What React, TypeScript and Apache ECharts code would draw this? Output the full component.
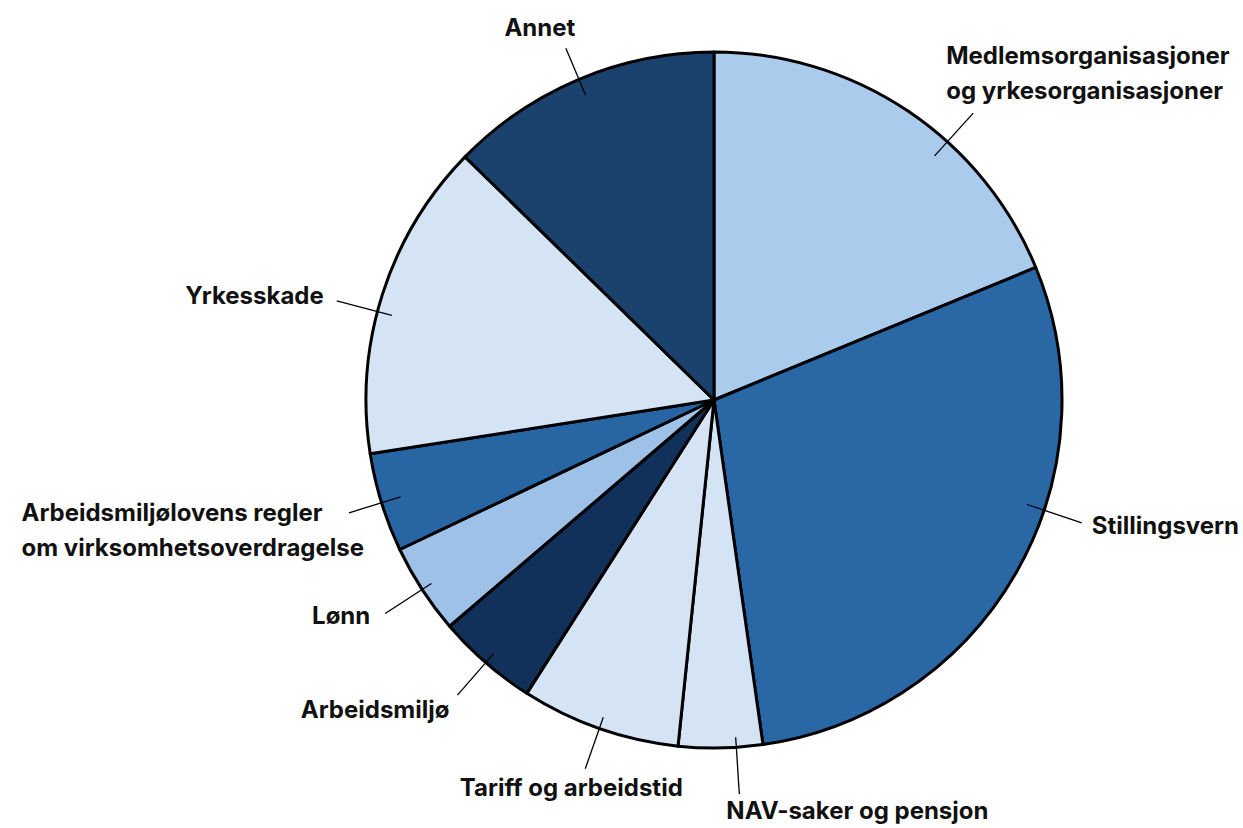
import React, { useEffect, useRef } from "react";
import * as echarts from "echarts";

const categories = [
  "Medlemsorganisasjoner\nog yrkesorganisasjoner",
  "Stillingsvern",
  "NAV-saker og pensjon",
  "Tariff og arbeidstid",
  "Arbeidsmiljø",
  "Lønn",
  "Arbeidsmiljølovens regler\nom virksomhetsoverdragelse",
  "Yrkesskade",
  "Annet",
];
const values = [18.8, 29.0, 3.9, 7.4, 4.7, 4.2, 4.6, 14.8, 12.7];
const colors = [
  "#abcbed",
  "#2a67a5",
  "#d4e4f5",
  "#d4e4f5",
  "#12315a",
  "#9ec1e8",
  "#2866a3",
  "#d4e4f5",
  "#1b416d",
];

// layout (not data)
const CX = 714;
const CY = 400;
const R = 348;
const lineIn = [19, 18, 10, 12, 12, 11, 20, 15, 17];
const lineOut = [38.6, 39.7, 46.9, 42.6, 43, 44, 34, 42, 33.7];
const angleShift = [8.3, -11.3, -2.6, 0, 0, 0, 0, -3, 0];
const labelAlign = ["left", "left", "left", "center", "right", "right", "left", "right", "center"];
const labelOffset: [number, number][] = [
  [-27, -40],
  [10, 3],
  [-13, 16],
  [-14, 19],
  [-8, 14],
  [-15, 2],
  [15, 17],
  [-13, -5],
  [-26, -21],
];

const fontStyle = {
  color: "#111111",
  fontFamily: "Inter",
  fontWeight: 700,
  fontSize: 24,
  lineHeight: 35,
};

export default function App() {
  const ref = useRef<HTMLDivElement>(null);
  useEffect(() => {
    if (!ref.current) return;
    const chart = echarts.init(ref.current, null, { renderer: "svg" });
    const data = categories.map((c, i) => ({
      name: c,
      value: values[i],
      itemStyle: { color: colors[i] },
    }));
    chart.setOption({
      animation: false,
      backgroundColor: "#ffffff",
      series: [
        {
          type: "pie",
          z: 2,
          center: [CX, CY],
          radius: R,
          startAngle: 90,
          clockwise: true,
          avoidLabelOverlap: false,
          silent: true,
          data,
          itemStyle: { borderColor: "#000000", borderWidth: 3 },
          label: { show: false },
          labelLine: { show: false },
        },
        {
          type: "pie",
          z: 5,
          center: [CX, CY],
          radius: R,
          startAngle: 90,
          clockwise: true,
          avoidLabelOverlap: false,
          silent: true,
          data: categories.map((c, i) => ({ name: c, value: values[i] })),
          itemStyle: { color: "rgba(0,0,0,0)", borderWidth: 0 },
          label: {
            show: true,
            position: "outside",
            formatter: "{b}",
            ...fontStyle,
          },
          labelLine: {
            show: true,
            length: 40,
            length2: 0,
            lineStyle: { color: "#000000", width: 1.3 },
          },
          labelLayout: (p: any) => {
            const i = p.dataIndex;
            const pts = p.labelLinePoints;
            if (!pts || pts.length < 2) return {};
            const dx = pts[1][0] - pts[0][0];
            const dy = pts[1][1] - pts[0][1];
            const a = Math.atan2(dy, dx) + (angleShift[i] * Math.PI) / 180;
            const ux = Math.cos(a);
            const uy = Math.sin(a);
            const start = [CX + (R - lineIn[i]) * ux, CY + (R - lineIn[i]) * uy];
            const end = [CX + (R + lineOut[i]) * ux, CY + (R + lineOut[i]) * uy];
            let x = end[0] + labelOffset[i][0];
            const y = end[1] + labelOffset[i][1];
            if (i === 6 && p.labelRect) {
              x = end[0] + labelOffset[i][0] - p.labelRect.width;
            }
            return {
              x,
              y,
              align: labelAlign[i],
              verticalAlign: "middle",
              labelLinePoints: [start, end],
            };
          },
        },
      ],
    });
    return () => chart.dispose();
  }, []);
  return (
    <div
      ref={ref}
      style={{ position: "absolute", left: 0, top: 0, width: 1243, height: 828 }}
    />
  );
}
